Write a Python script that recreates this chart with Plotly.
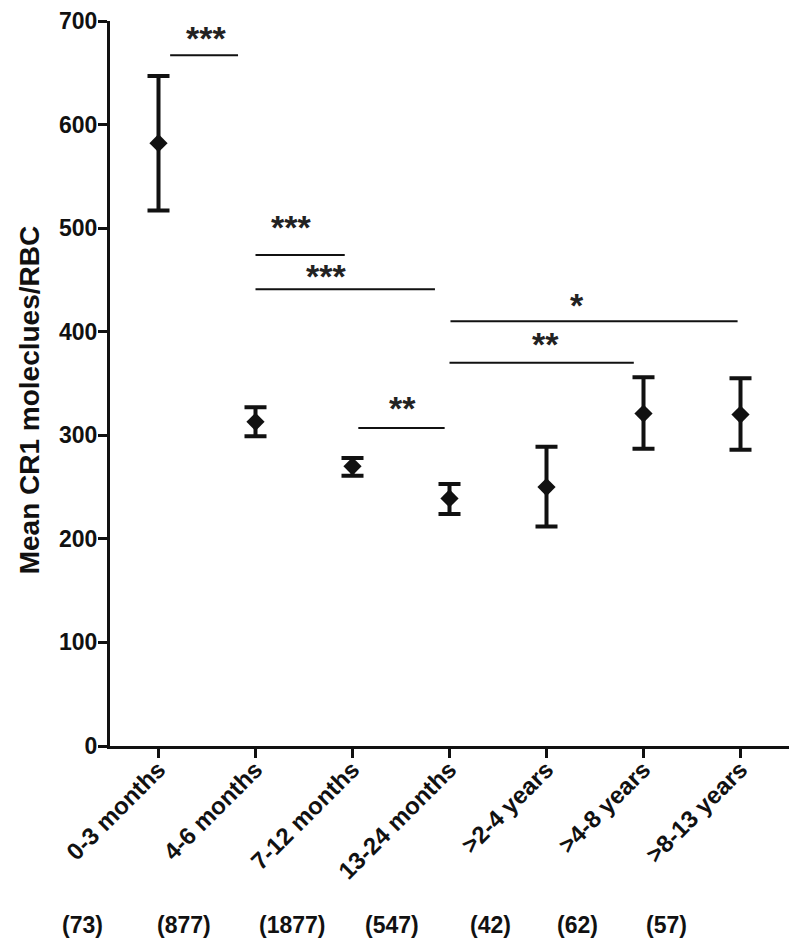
import plotly.graph_objects as go

# ---- data ----
categories = ["0-3 months", "4-6 months", "7-12 months", "13-24 months",
              ">2-4 years", ">4-8 years", ">8-13 years"]
means = [582, 313, 270, 239, 250, 321, 320]
upper = [647, 327, 278, 253, 289, 356, 355]
lower = [517, 299, 261, 224, 212, 287, 286]
n_labels = ["(73)", "(877)", "(1877)", "(547)", "(42)", "(62)", "(57)"]
y_ticks = [0, 100, 200, 300, 400, 500, 600, 700]

# significance brackets
sig_x0 = [0.12, 1.0, 1.0, 2.06, 3.01, 3.0]
sig_x1 = [0.82, 1.92, 2.85, 2.95, 5.97, 4.9]
sig_y = [667, 474, 441, 307, 410, 370]
sig_text = ["***", "***", "***", "**", "*", "**"]
sig_tx = [0.49, 1.37, 1.73, 2.52, 4.31, 3.99]
sig_ty = [686, 503, 456, 328, 428, 390]

# layout-only positions for the n labels (paper x coordinates)
n_label_px = [-0.040, 0.109, 0.268, 0.415, 0.561, 0.689, 0.819]

FONT = "Liberation Sans, Arial, sans-serif"
xi = list(range(len(categories)))

fig = go.Figure()
fig.add_trace(go.Scatter(
    x=xi, y=means, mode="markers",
    marker=dict(symbol="diamond", size=14, color="#111"),
    error_y=dict(type="data", symmetric=False,
                 array=[u - m for u, m in zip(upper, means)],
                 arrayminus=[m - l for m, l in zip(means, lower)],
                 color="#111", thickness=4, width=11),
    showlegend=False, hoverinfo="skip", cliponaxis=False))

shapes = []
annotations = []
for x0, x1, y, t, tx, ty in zip(sig_x0, sig_x1, sig_y, sig_text, sig_tx, sig_ty):
    shapes.append(dict(type="line", xref="x", yref="y", x0=x0, x1=x1, y0=y, y1=y,
                       line=dict(color="#111", width=2)))
    annotations.append(dict(x=tx, y=ty, xref="x", yref="y", text="<b>%s</b>" % t, showarrow=False,
                            font=dict(family=FONT, size=34, color="#222"),
                            xanchor="center", yanchor="middle", yshift=-2))

for lx, lab in zip(n_label_px, n_labels):
    annotations.append(dict(x=lx, y=-0.2465, xref="paper", yref="paper", text="<b>%s</b>" % lab,
                            showarrow=False, font=dict(family=FONT, size=23, color="#111"),
                            xanchor="center", yanchor="middle"))

annotations.append(dict(x=-0.118, y=0.478, xref="paper", yref="paper",
                        text="<b>Mean CR1 moleclues/RBC</b>", textangle=-90,
                        showarrow=False, font=dict(family=FONT, size=28, color="#111"),
                        xanchor="center", yanchor="middle"))

fig.update_layout(
    width=800, height=944,
    margin=dict(l=102, r=19, t=13, b=206),
    paper_bgcolor="white", plot_bgcolor="white",
    shapes=shapes, annotations=annotations,
    font=dict(family=FONT, color="#111"),
)
fig.update_xaxes(
    range=[-0.5, 6.5], tickmode="array", tickvals=xi,
    ticktext=["<b>%s</b>" % c for c in categories],
    tickangle=-45, tickfont=dict(family=FONT, size=24, color="#111"),
    showline=True, linecolor="#111", linewidth=3, mirror=False,
    ticks="outside", ticklen=9, tickwidth=3, tickcolor="#111",
    ticklabelstandoff=-12, ticklabeloverflow="allow",
    showgrid=False, zeroline=False, automargin=False)
fig.update_yaxes(
    range=[0, 700], tickmode="array", tickvals=y_ticks,
    ticktext=["<b>%d</b>" % v for v in y_ticks],
    tickfont=dict(family=FONT, size=23, color="#111"),
    showline=True, linecolor="#111", linewidth=3,
    ticks="outside", ticklen=9, tickwidth=3, tickcolor="#111",
    ticklabelstandoff=-4, ticklabeloverflow="allow",
    showgrid=False, zeroline=False, automargin=False)

fig.write_html("out.html")
